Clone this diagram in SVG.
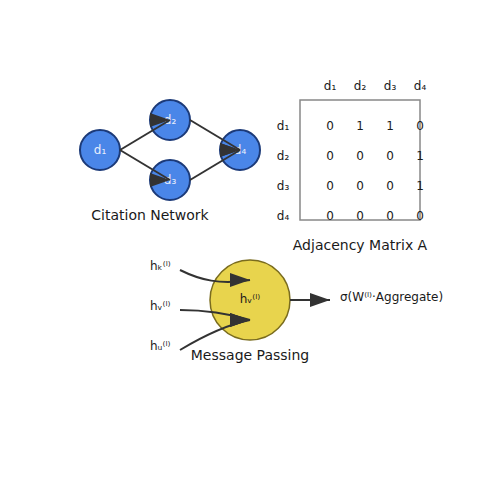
<svg xmlns="http://www.w3.org/2000/svg" width="500" height="500" viewBox="0 0 500 500">
<style>
text{font-family:"DejaVu Sans",sans-serif;fill:#1a1a1a}
.node{fill:#4a86e8;stroke:#1c3a78;stroke-width:2}
.nl{fill:#e8eefc;font-size:12px;text-anchor:middle;dominant-baseline:central}
.edge{stroke:#333;stroke-width:2;fill:none}
.title{font-size:14px;text-anchor:middle}
.m{font-size:12px;text-anchor:middle;dominant-baseline:central}
.h{font-size:12px;dominant-baseline:central}
</style>
<defs>
<marker id="arr" markerUnits="userSpaceOnUse" markerWidth="20" markerHeight="14" refX="20" refY="7" orient="0">
<path d="M0,0 L20,7 L0,14 z" fill="#333"/>
</marker>
</defs>
<g id="d1"><circle class="node" cx="100" cy="150" r="20"/><text class="nl" x="100" y="150">d₁</text></g>
<g id="d2"><circle class="node" cx="170" cy="120" r="20"/><text class="nl" x="170" y="120">d₂</text></g>
<g id="d3"><circle class="node" cx="170" cy="180" r="20"/><text class="nl" x="170" y="180">d₃</text></g>
<g id="d4"><circle class="node" cx="240" cy="150" r="20"/><text class="nl" x="240" y="150">d₄</text></g>
<g id="edges">
<line class="edge" x1="120" y1="150" x2="170" y2="120" marker-end="url(#arr)"/>
<line class="edge" x1="120" y1="150" x2="170" y2="180" marker-end="url(#arr)"/>
<line class="edge" x1="190" y1="120" x2="240" y2="150" marker-end="url(#arr)"/>
<line class="edge" x1="190" y1="180" x2="240" y2="150" marker-end="url(#arr)"/>
</g>
<text class="title" x="150" y="220">Citation Network</text>
<g id="matrix">
<rect x="300" y="100" width="120" height="120" fill="none" stroke="#888" stroke-width="1.5"/>
<text class="m" x="330" y="86">d₁</text><text class="m" x="360" y="86">d₂</text><text class="m" x="390" y="86">d₃</text><text class="m" x="420" y="86">d₄</text>
<text class="m" x="283" y="126">d₁</text><text class="m" x="283" y="156">d₂</text><text class="m" x="283" y="186">d₃</text><text class="m" x="283" y="216">d₄</text>
<text class="m" x="330" y="126">0</text><text class="m" x="360" y="126">1</text><text class="m" x="390" y="126">1</text><text class="m" x="420" y="126">0</text>
<text class="m" x="330" y="156">0</text><text class="m" x="360" y="156">0</text><text class="m" x="390" y="156">0</text><text class="m" x="420" y="156">1</text>
<text class="m" x="330" y="186">0</text><text class="m" x="360" y="186">0</text><text class="m" x="390" y="186">0</text><text class="m" x="420" y="186">1</text>
<text class="m" x="330" y="216">0</text><text class="m" x="360" y="216">0</text><text class="m" x="390" y="216">0</text><text class="m" x="420" y="216">0</text>
</g>
<text class="title" x="360" y="250">Adjacency Matrix A</text>
<g id="hv"><circle cx="250" cy="300" r="40" fill="#e8d44d" stroke="#7a6c1e" stroke-width="1.5"/><text class="h" x="250" y="299" text-anchor="middle" font-size="13.5">hᵥ⁽ˡ⁾</text></g>
<g id="messages">
<path class="edge" d="M180,270 C200,280 220,285 250,280" marker-end="url(#arr)"/>
<path class="edge" d="M180,310 C210,310 230,314 250,320" marker-end="url(#arr)"/>
<path class="edge" d="M180,350 C200,338 225,325 250,320" marker-end="url(#arr)"/>
<line class="edge" x1="290" y1="300" x2="330" y2="300" marker-end="url(#arr)"/>
</g>
<text class="h" x="150" y="266">hₖ⁽ˡ⁾</text>
<text class="h" x="150" y="306">hᵥ⁽ˡ⁾</text>
<text class="h" x="150" y="346">hᵤ⁽ˡ⁾</text>
<text class="h" x="340" y="297">σ(W⁽ˡ⁾·Aggregate)</text>
<text class="title" x="250" y="360">Message Passing</text>
</svg>
